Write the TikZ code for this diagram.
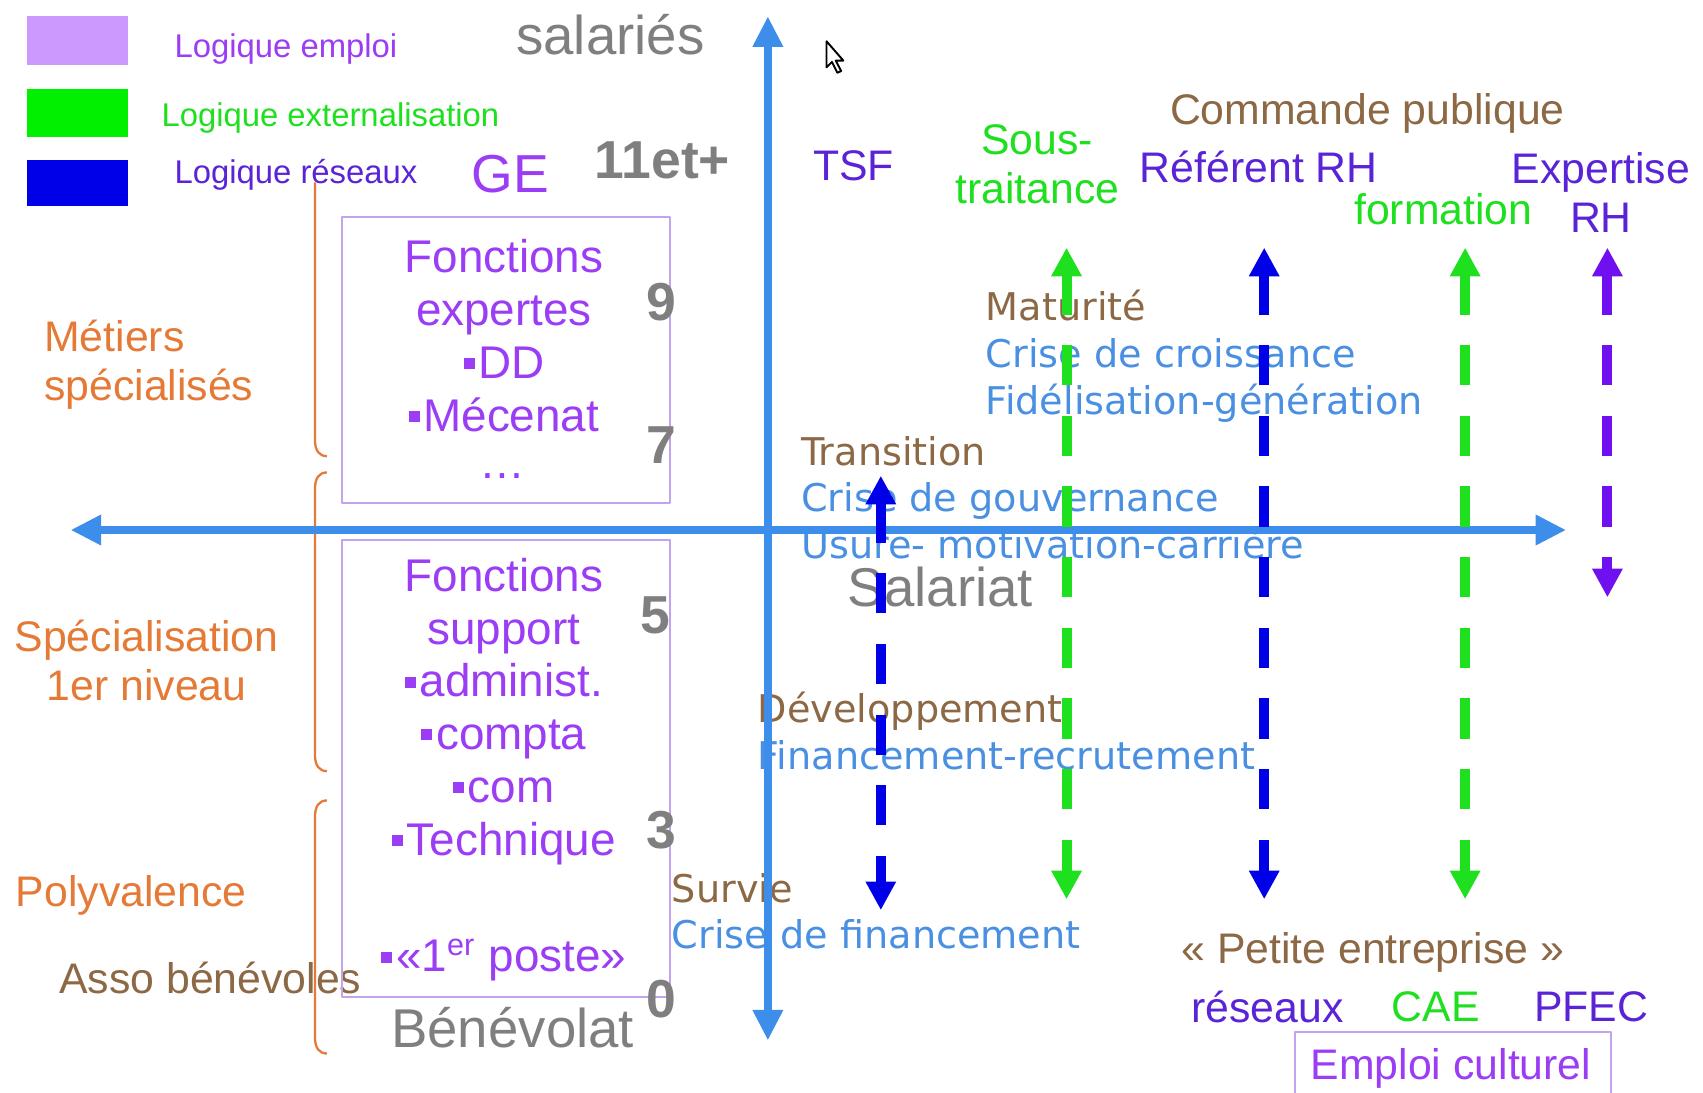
\documentclass[tikz,border=0pt]{standalone}
\usepackage{fontspec}
\setmainfont{Liberation Sans}
\newfontfamily\verd{DejaVu Sans}
\usetikzlibrary{arrows.meta}

\definecolor{axisblue}{HTML}{3C8EEA}
\definecolor{emploi}{HTML}{9B3DF5}
\definecolor{lavande}{HTML}{CC99FF}
\definecolor{cadrelav}{HTML}{C3A3EE}
\definecolor{extgreen}{HTML}{1EE01E}
\definecolor{boxgreen}{HTML}{00F000}
\definecolor{resblue}{HTML}{0000E8}
\definecolor{resviolet}{HTML}{5A24D6}
\definecolor{rhviolet}{HTML}{7010F0}
\definecolor{orangebr}{HTML}{E57A36}
\definecolor{brun}{HTML}{8C6845}
\definecolor{gris}{HTML}{7F7F7F}
\definecolor{crise}{HTML}{4A90E2}

\newcommand\puce{\raisebox{0.2em}{\rule{0.24em}{0.24em}}\kern0.08em}

\begin{document}
\begin{tikzpicture}[x=0.01cm,y=-0.01cm,line join=round,
  every node/.style={inner sep=0pt},
  axe/.style={draw=axisblue,line width=2.2pt,{Triangle[length=8pt,width=7.5pt]}-{Triangle[length=8pt,width=7.5pt]}},
  fleche/.style={line width=2.6pt,dash pattern=on 10.5pt off 8pt,{Triangle[length=7.5pt,width=7.5pt]}-{Triangle[length=7.5pt,width=7.5pt]}},
  accolade/.style={draw=orangebr,line width=0.6pt},
  cadre/.style={draw=cadrelav,line width=0.5pt},
  legende/.style={font=\fontsize{8.6}{10}\selectfont,anchor=west},
  grand/.style={font=\fontsize{14.3}{17}\selectfont,text=gris},
  chiffre/.style={font=\bfseries\fontsize{14}{17}\selectfont,text=gris},
  moyen/.style={font=\fontsize{11.2}{12.8}\selectfont},
  fonction/.style={font=\fontsize{12}{13.8}\selectfont,text=emploi,align=center},
  etape/.style={font=\verd\fontsize{10}{12.2}\selectfont,anchor=west,align=left,text=crise}]
  \useasboundingbox (0,0) rectangle (1568,1006);
  % legende
  \fill[lavande] (25,15) rectangle (118,60);
  \fill[boxgreen] (25,82) rectangle (118,126);
  \fill[resblue] (25,147) rectangle (118,190);
  \node[legende,text=emploi] (lemploi) at (160,45) {Logique emploi};
  \node[legende,text=extgreen] (lexternal) at (148,109) {Logique externalisation};
  \node[legende,text=resviolet] (lreseaux) at (160,161) {Logique réseaux};
  % haut de l'axe
  \node[grand] (salaries) at (562,32) {salariés};
  \node[font=\fontsize{14}{17}\selectfont,text=emploi] (ge) at (470,160) {GE};
  \node[chiffre] (onze) at (610,148) {11et+};
  % niveaux
  \node[moyen,text=orangebr,anchor=west,align=left] (metiers) at (40,336) {Métiers\\spécialisés};
  \node[moyen,text=orangebr,align=center] (specia) at (135,608) {Spécialisation\\1er niveau};
  \node[moyen,text=orangebr,anchor=west] (polyv) at (14,824) {Polyvalence};
  \node[moyen,text=brun,anchor=west] (asso) at (54,900) {Asso bénévoles};
  \draw[accolade] (290,168) -- (290,405) .. controls (290,415) and (294,420) .. (301,420);
  \draw[accolade] (301,435) .. controls (294,435) and (290,440) .. (290,450) -- (290,695)
    .. controls (290,705) and (294,710) .. (301,710);
  \draw[accolade] (301,737) .. controls (294,737) and (290,742) .. (290,752) -- (290,955)
    .. controls (290,965) and (294,970) .. (301,970);
  % fonctions
  \draw[cadre] (315,200) rectangle (617,463);
  \draw[cadre] (315,497) rectangle (617,918);
  \node[fonction] (expertes) at (464,309) {Fonctions\\expertes\\\puce DD\\\puce Mécenat};
  \node[fonction] (etc) at (463,438) {\dots};
  \node[fonction] (support) at (464,655) {Fonctions\\support\\\puce administ.\\\puce compta\\\puce com\\\puce Technique};
  \node[fonction] (poste) at (464,884) {\puce«1\textsuperscript{er} poste»};
  \node[chiffre] (n9) at (609,278) {9};
  \node[chiffre] (n7) at (609,410) {7};
  \node[chiffre] (n5) at (603,567) {5};
  \node[chiffre] (n3) at (609,764) {3};
  \node[chiffre] (n0) at (609,920) {0};
  \node[grand] (benevolat) at (472,946) {Bénévolat};
  \node[grand] (salariat) at (866,540) {Salariat};
  % acteurs
  \node[moyen,text=resviolet] (tsf) at (786,153) {TSF};
  \node[moyen,text=extgreen,align=center] (soustr) at (955,151) {Sous-\\traitance};
  \node[moyen,text=brun] (commande) at (1259,104) {Commande publique};
  \node[moyen,text=resviolet] (referent) at (1159,154) {Référent RH};
  \node[moyen,text=extgreen] (formation) at (1329,193) {formation};
  \node[moyen,text=resviolet,align=center] (expertise) at (1474,177) {Expertise\\RH};
  % etapes
  \node[etape] (maturite) at (907,328) {\textcolor{brun}{Maturité}\\Crise de croissance\\Fidélisation-génération};
  \node[etape] (transition) at (737,458) {\textcolor{brun}{Transition}\\Crise de gouvernance\\Usure- motivation-carrière};
  \node[etape] (developpement) at (697,673) {\textcolor{brun}{Développement}\\Financement-recrutement};
  \node[etape] (survie) at (618,839) {\textcolor{brun}{Survie}\\Crise de financement};
  % petite entreprise
  \node[moyen,text=brun] (petite) at (1264,877) {«~Petite entreprise~»};
  \node[moyen,text=resviolet] (reseaux) at (1167,927) {réseaux};
  \node[moyen,text=extgreen] (cae) at (1322,927) {CAE};
  \node[moyen,text=resviolet] (pfec) at (1465,927) {PFEC};
  \draw[cadre] (1192,950) rectangle (1483,1012);
  \node[moyen,text=emploi] (culturel) at (1336,984) {Emploi culturel};
  % axes
  \coordinate (axeN) at (707,15);
  \coordinate (axeS) at (707,958);
  \coordinate (axeO) at (65,488);
  \coordinate (axeE) at (1442,488);
  \draw[axe] (axeN) -- (axeS);
  \draw[axe] (axeO) -- (axeE);
  % fleches
  \coordinate (b0h) at (811,438);  \coordinate (b0b) at (811,838);
  \coordinate (g1h) at (982,228);  \coordinate (g1b) at (982,828);
  \coordinate (b1h) at (1164,228); \coordinate (b1b) at (1164,828);
  \coordinate (g2h) at (1349,228); \coordinate (g2b) at (1349,828);
  \coordinate (vh) at (1480,228);  \coordinate (vb) at (1480,550);
  \draw[fleche,draw=resblue] (b0h) -- (b0b);
  \draw[fleche,draw=extgreen] (g1h) -- (g1b);
  \draw[fleche,draw=resblue] (b1h) -- (b1b);
  \draw[fleche,draw=extgreen] (g2h) -- (g2b);
  \draw[fleche,draw=rhviolet] (vh) -- (vb);
  % curseur
  \draw[fill=white,line width=0.5pt] (761,38) -- ++(0,24) -- ++(5,-5) -- ++(5,10)
    -- ++(3.5,-1.6) -- ++(-5,-9.6) -- ++(7,0) -- cycle;
\end{tikzpicture}
\end{document}
